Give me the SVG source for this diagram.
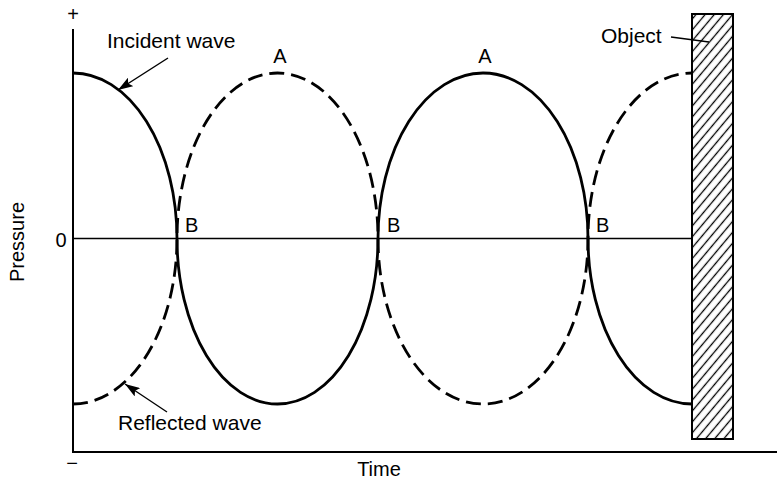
<svg xmlns="http://www.w3.org/2000/svg" width="777" height="482" viewBox="0 0 777 482">
<style>
  text { font-family: "Liberation Sans", Arial, sans-serif; fill: #000; }
  .lbl { font-size: 21px; }
  .ab { font-size: 20px; }
  .axis { stroke: #000; stroke-width: 2; fill: none; }
  .zero { stroke: #000; stroke-width: 1.6; fill: none; }
  .wave { stroke: #000; stroke-width: 2.8; fill: none; }
  .dash { stroke-dasharray: 15 7; }
  .lead { stroke: #000; stroke-width: 1.4; fill: none; }
</style>
<defs>
  <marker id="ah" markerUnits="userSpaceOnUse" markerWidth="16" markerHeight="10" refX="15" refY="5" orient="auto">
    <path d="M0,0 L15,5 L0,10 L3,5 Z" fill="#000"/>
  </marker>
  <pattern id="hatch" patternUnits="userSpaceOnUse" width="7" height="20" patternTransform="rotate(40)">
    <line x1="3.5" y1="0" x2="3.5" y2="20" stroke="#000" stroke-width="1.3"/>
  </pattern>
</defs>

<g id="axes">
  <line class="axis" x1="73" y1="29" x2="73" y2="452"/>
  <line class="axis" x1="72" y1="452" x2="777" y2="452"/>
  <line class="zero" x1="73" y1="238.5" x2="692" y2="238.5"/>
  <text class="ab" x="73" y="21" text-anchor="middle" font-size="18">+</text>
  <text class="ab" x="72" y="470" text-anchor="middle" font-size="18">−</text>
  <text class="ab" x="61" y="247" text-anchor="middle">0</text>
  <text class="ab" transform="translate(24,242) rotate(-90)" text-anchor="middle">Pressure</text>
  <text class="ab" x="379" y="476" text-anchor="middle">Time</text>
</g>

<g id="object">
  <rect x="692" y="14" width="41" height="425" fill="url(#hatch)" stroke="#000" stroke-width="2"/>
  <text class="lbl" x="601" y="43">Object</text>
</g>

<g id="incident-wave">
  <path class="wave" d="M73,73 A104,165.5 0 0 1 177,238.5 A100.5,165.5 0 0 0 378,238.5 A105,165.5 0 0 1 588,238.5 A104,165.5 0 0 0 692,404"/>
  <text class="lbl" x="107" y="48">Incident wave</text>
</g>

<g id="reflected-wave">
  <path class="wave dash" d="M73,404 A104,165.5 0 0 0 177,238.5 A100.5,165.5 0 0 1 378,238.5 A105,165.5 0 0 0 588,238.5 A104,165.5 0 0 1 692,73"/>
  <text class="lbl" x="118" y="430">Reflected wave</text>
</g>

<g id="points">
  <text class="ab" x="280" y="63" text-anchor="middle">A</text>
  <text class="ab" x="485" y="63" text-anchor="middle">A</text>
  <text class="ab" x="185" y="232">B</text>
  <text class="ab" x="387" y="232">B</text>
  <text class="ab" x="596" y="232">B</text>
</g>

<g id="connectors">
  <line class="lead" x1="168" y1="58" x2="118" y2="90" marker-end="url(#ah)"/>
  <line class="lead" x1="167" y1="412" x2="125" y2="384" marker-end="url(#ah)"/>
  <line class="lead" x1="671" y1="37" x2="709" y2="42"/>
</g>
</svg>
